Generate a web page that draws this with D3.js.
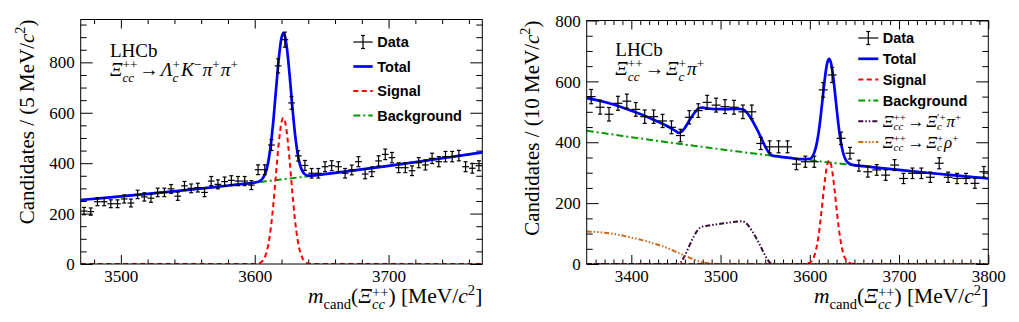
<!DOCTYPE html>
<html><head><meta charset="utf-8">
<script src="https://cdn.jsdelivr.net/npm/d3@7"></script>
<style>body{margin:0;background:#fff}svg{display:block}</style>
</head><body>
<svg id="c" width="1019" height="322"></svg>
<script>
// ---------------- LEFT PANEL DATA (5 MeV bins) ----------------
const binCentersL = d3.range(3472.5, 3770, 5);
const countsL = [210,208,247,247,239,239,258,242,276,266,261,284,284,298,269,310,300,303,284,329,
  316,327,332,329,329,313,374,374,472,786,890,639,429,391,360,360,386,390,386,360,
  373,406,357,366,409,435,422,382,382,370,402,393,419,406,426,426,430,386,380,390];
const fitGridL = [3470,3490,3510,3530,3550,3570,3590,3600,3604,3606,3608,3610,3612,3614,3616,3618,3620,3621.4,3622,3624,3626,3628,3630,3632,3634,3636,3638,3640,3643,3648,3660,3680,3700,3720,3740,3760,3770];
const bkgL = [254.0,263.3,273.1,283.4,294.1,305.3,317.0,323.0,325.4,326.7,327.9,329.1,330.4,331.6,332.9,334.1,335.4,336.3,336.6,337.9,339.2,340.5,341.7,343.0,344.3,345.6,346.9,348.2,350.2,353.5,361.5,375.3,389.5,404.2,419.4,435.0,443.0];
const sigL = [0,0,0,0,0,0,0,0.4,4.6,13.2,33.1,73.0,141.8,242.3,364.4,482.4,562,580,576.7,520.7,413.9,289.6,178.4,96.7,46.2,19.4,7.2,2.3,0.4,0,0,0,0,0,0,0,0];
const xMajorL = [3500,3600,3700];
const yMajorL = [0,200,400,600,800];

// ---------------- RIGHT PANEL DATA (10 MeV bins) ----------------
const binCentersR = d3.range(3355, 3800, 10);
const countsR = [550,515,492,528,535,508,484,484,470,449,422,482,504,531,522,517,515,500,500,396,
  385,385,385,328,336,336,572,621,413,364,323,303,309,292,325,281,298,298,285,331,
  285,281,281,265,303];
const fitGridR = [3350,3360,3370,3380,3390,3400,3410,3420,3430,3440,3450,3453,3456,3460,3465,3470,3474,3477,3480,3485,3490,3500,3510,3520,3524,3527,3530,3535,3540,3545,3549,3552,3555,3558,3562,3570,3580,3590,3600,3604,3606,3608,3610,3612,3614,3616,3618,3620,3621.7,3622,3624,3626,3628,3630,3632,3634,3636,3638,3640,3643,3648,3660,3680,3700,3720,3740,3760,3780,3800];
const bkgR = [438.0,433.7,429.3,425.1,420.8,416.6,412.5,408.4,404.3,400.3,396.3,
  395.1,393.9,392.3,390.4,388.4,386.8,385.7,384.5,382.6,380.7,
  376.9,373.1,369.4,367.9,366.8,365.7,363.9,362.1,360.2,358.8,
  357.7,356.7,355.6,354.2,351.4,347.9,344.4,341.0,339.6,339.0,
  338.3,337.6,337.0,336.3,335.6,335.0,334.3,333.7,333.6,333.0,
  332.3,331.7,331.0,330.4,329.7,329.1,328.4,327.8,326.8,325.2,
  321.4,315.1,309.0,303.1,297.4,291.8,286.3,281.0];
const sigR = [0,0,0,0,0,0,0,0,0,0, 0,0,0,0,0,0,0,0,0,0, 0,0,0,0,0,0,0,0,0,0, 0,0,0,0,0,0,0,0,
  4.6,19.4,35.8,61.3,97.4,144.0,197.9,252.7,300.1,331.1,340,339.7,324.0,287.2,236.6,181.3,129.1,85.4,52.6,30.1,16.0,5.4,0.6,
  0,0,0,0,0,0,0,0];
const xiPrimeR = [0,0,0,0,0,0,0,0,0,0,0,0,
  8,28,60,90,110,119,123,125.5,128,132,136,140,140.5,138,130,110,85,57,33,18,6,1,0,
  0,0,0,0,0,0,0,0,0,0, 0,0,0,0,0,0,0,0,0,0, 0,0,0,0,0,0,0,0,0,0, 0,0,0,0];
const rhoR = [107,105.5,103,99,93.5,87,80,72,63,53,40,36,32,27,21,15,11,8.5,6,3,1.2,
  0,0,0,0,0,0,0,0,0,0, 0,0,0,0,0,0,0,0,0,0, 0,0,0,0,0,0,0,0,0,0, 0,0,0,0,0,0,0,0,0,0, 0,0,0,0,0,0,0,0];
const xMajorR = [3400,3500,3600,3700,3800];
const yMajorR = [0,200,400,600,800];

[[fitGridL,bkgL,sigL],[fitGridR,bkgR,sigR,xiPrimeR,rhoR]].forEach(a=>a.forEach(arr=>{ if(arr.length!==a[0].length) throw new Error("length mismatch "+arr.length+" vs "+a[0].length); }));

// ---------------- drawing ----------------
const SERIF = "'Liberation Serif','Times New Roman',serif";
const SANS = "'Liberation Sans',Arial,sans-serif";
const svg = d3.select("#c");

function rich(parent, x, y, segs, size, anchor, off) {
  off = Object.assign({sub: 0.3, sup: 0.42, ssup: 0.42, scale: 0.68}, off || {});
  const g = parent.append("g");
  let cx = 0, ps = 0;
  for (const s of segs) {
    const small = s.sub || s.sup;
    const fs = small ? size * off.scale : size;
    const dy = s.sub ? size * off.sub : s.sup ? -size * (s.stack ? off.ssup : off.sup) : 0;
    const start = s.stack ? ps : cx + (s.gap || 0) * size;
    const t = g.append("text").attr("x", start).attr("y", dy).attr("font-size", fs)
      .attr("font-style", s.i ? "italic" : "normal").text(s.t);
    const end = start + t.node().getComputedTextLength();
    if (s.stack) cx = Math.max(cx, end); else { ps = start; cx = end; }
  }
  const ox = anchor === "end" ? x - cx : anchor === "middle" ? x - cx / 2 : x;
  g.attr("transform", `translate(${ox},${y})`);
  return g;
}

function panel(cfg) {
  const f = cfg.frame;
  const x = d3.scaleLinear().domain(cfg.xdom).range([f.x0, f.x1]);
  const y = d3.scaleLinear().domain(cfg.ydom).range([f.y1, f.y0]);
  const g = svg.append("g");
  const clipId = "clip" + cfg.id;
  svg.append("clipPath").attr("id", clipId).append("rect")
    .attr("x", f.x0).attr("y", f.y0).attr("width", f.x1 - f.x0).attr("height", f.y1 - f.y0);

  // axes
  const fontAttrs = sel => sel.attr("font-family", SERIF).attr("font-size", 17);
  const bMaj = g.append("g").attr("transform", `translate(0,${f.y1})`)
    .call(d3.axisBottom(x).tickValues(cfg.xMaj).tickSize(-9).tickFormat(d3.format("d")));
  fontAttrs(bMaj);
  bMaj.selectAll("text").attr("y", 18).attr("dy", null).attr("fill", "#000");
  const bMin = g.append("g").attr("transform", `translate(0,${f.y1})`)
    .call(d3.axisBottom(x).tickValues(cfg.xMin).tickSize(-4.5).tickFormat(""));
  const tMaj = g.append("g").attr("transform", `translate(0,${f.y0})`)
    .call(d3.axisTop(x).tickValues(cfg.xMaj).tickSize(-9).tickFormat(""));
  const tMin = g.append("g").attr("transform", `translate(0,${f.y0})`)
    .call(d3.axisTop(x).tickValues(cfg.xMin).tickSize(-4.5).tickFormat(""));
  const lMaj = g.append("g").attr("transform", `translate(${f.x0},0)`)
    .call(d3.axisLeft(y).tickValues(cfg.yMaj).tickSize(-12).tickFormat(d3.format("d")));
  fontAttrs(lMaj);
  lMaj.selectAll("text").attr("x", -6).attr("dy", "0.33em").attr("fill", "#000");
  const lMin = g.append("g").attr("transform", `translate(${f.x0},0)`)
    .call(d3.axisLeft(y).tickValues(cfg.yMin).tickSize(-6).tickFormat(""));
  const rMaj = g.append("g").attr("transform", `translate(${f.x1},0)`)
    .call(d3.axisRight(y).tickValues(cfg.yMaj).tickSize(-12).tickFormat(""));
  const rMin = g.append("g").attr("transform", `translate(${f.x1},0)`)
    .call(d3.axisRight(y).tickValues(cfg.yMin).tickSize(-6).tickFormat(""));
  [bMaj, bMin, tMaj, tMin, lMaj, lMin, rMaj, rMin].forEach(a => a.select(".domain").remove());

  // curves
  const cg = g.append("g").attr("clip-path", `url(#${clipId})`);
  const line = d3.line().x(d => x(d[0])).y(d => y(d[1])).curve(d3.curveMonotoneX);
  cfg.comps.forEach(c => {
    cg.append("path").datum(cfg.grid.map((m, i) => [m, c.vals[i]]))
      .attr("d", line).attr("fill", "none").attr("stroke", c.color)
      .attr("stroke-width", c.w).attr("stroke-dasharray", c.dash);
  });
  const total = cfg.grid.map((m, i) => [m, cfg.comps.reduce((s, c) => s + c.vals[i], 0)]);
  cg.append("path").datum(total).attr("d", line).attr("fill", "none")
    .attr("stroke", "#0000ff").attr("stroke-width", 2.7);

  // data points
  const dg = g.append("g").attr("stroke", "#000").attr("stroke-width", 1.2).attr("fill", "none");
  cfg.centers.forEach((m, i) => {
    const v = cfg.counts[i], e = Math.sqrt(v);
    const px = x(m), py = y(v);
    dg.append("line").attr("x1", x(m - cfg.hw)).attr("x2", x(m + cfg.hw)).attr("y1", py).attr("y2", py);
    dg.append("line").attr("x1", px).attr("x2", px).attr("y1", y(v - e)).attr("y2", y(v + e));
    dg.append("line").attr("x1", px - 2).attr("x2", px + 2).attr("y1", y(v - e)).attr("y2", y(v - e));
    dg.append("line").attr("x1", px - 2).attr("x2", px + 2).attr("y1", y(v + e)).attr("y2", y(v + e));
  });

  // frame
  g.append("rect").attr("x", f.x0).attr("y", f.y0).attr("width", f.x1 - f.x0).attr("height", f.y1 - f.y0)
    .attr("fill", "none").attr("stroke", "#000").attr("stroke-width", 1);

  // axis titles
  const tg = g.append("g").attr("font-family", SERIF).attr("fill", "#000");
  const yt = tg.append("g").attr("transform", `translate(${cfg.yTitleX},${f.y0}) rotate(-90)`);
  rich(yt, 0, 0, [{t: cfg.yTitle}, {t: "c", i: 1}, {t: "2", sup: 1}, {t: ")"}], 21, "end");
  rich(tg, f.x1, 302.5, [{t: "m", i: 1}, {t: "cand", sub: 1}, {t: "("}, {t: "Ξ", i: 1},
    {t: "cc", i: 1, sub: 1}, {t: "++", sup: 1, stack: 1}, {t: ")\u00a0[MeV/"}, {t: "c", i: 1}, {t: "2", sup: 1}, {t: "]"}],
    21.5, "end", {sub: 0.28, sup: 0.36, ssup: 0.26});

  // labels
  tg.append("text").attr("x", cfg.lab.x).attr("y", cfg.lab.y).attr("font-size", 19).text("LHCb");
  rich(tg, cfg.lab.x, cfg.lab.y + 19, cfg.decay, 19.5, "start", {ssup: 0.38, sup: 0.38});

  // legend
  const lg = g.append("g");
  cfg.legend.forEach((it, k) => {
    const ly = cfg.leg.y0 + k * cfg.leg.dy;
    const L = cfg.leg;
    if (it.type === "data") {
      const cxm = (L.x0 + L.x1) / 2;
      const s = lg.append("g").attr("stroke", "#000").attr("stroke-width", 1.2);
      s.append("line").attr("x1", L.x0).attr("x2", L.x1).attr("y1", ly).attr("y2", ly);
      s.append("line").attr("x1", cxm).attr("x2", cxm).attr("y1", ly - 6.5).attr("y2", ly + 6.5);
      s.append("line").attr("x1", cxm - 2).attr("x2", cxm + 2).attr("y1", ly - 6.5).attr("y2", ly - 6.5);
      s.append("line").attr("x1", cxm - 2).attr("x2", cxm + 2).attr("y1", ly + 6.5).attr("y2", ly + 6.5);
    } else {
      lg.append("line").attr("x1", L.x0).attr("x2", L.x1).attr("y1", ly).attr("y2", ly)
        .attr("stroke", it.color).attr("stroke-width", it.w).attr("stroke-dasharray", it.dash);
    }
    if (it.rich) {
      const rg = lg.append("g").attr("font-family", SERIF).attr("fill", "#000");
      rich(rg, L.tx, ly + 5.5, it.rich, 17, "start", {sub: 0.22, sup: 0.34, ssup: 0.34, scale: 0.64});
    } else {
      lg.append("text").attr("x", L.tx).attr("y", ly + 5.3).attr("font-family", SANS)
        .attr("font-weight", "bold").attr("font-size", 14.5).attr("fill", "#000").text(it.label);
    }
  });
}

const RED = {color: "#ff0000", w: 2, dash: "5,3.5"};
const GREEN = {color: "#009a00", w: 2, dash: "7,3,2,3"};
const PURPLE = {color: "#3a0a3a", w: 2, dash: "5,2,1.5,2,1.5,2"};
const ORANGE = {color: "#cc6a1a", w: 2, dash: "5,2,1.5,2,1.5,2,1.5,2"};
const ARROW = {t: "→", gap: 0.1};

panel({
  id: "L",
  frame: {x0: 80.7, x1: 482.3, y0: 19.5, y1: 264},
  xdom: [3470, 3770], ydom: [0, 970],
  xMaj: xMajorL, xMin: d3.range(3480, 3770, 20).filter(v => !xMajorL.includes(v)),
  yMaj: yMajorL, yMin: d3.range(50, 970, 50).filter(v => !yMajorL.includes(v)),
  grid: fitGridL,
  comps: [Object.assign({vals: bkgL}, GREEN), Object.assign({vals: sigL}, RED)],
  centers: binCentersL, counts: countsL, hw: 2.5,
  yTitle: "Candidates / (5 MeV/", yTitleX: 33.5,
  lab: {x: 110, y: 57},
  decay: [{t: "Ξ", i: 1}, {t: "cc", i: 1, sub: 1}, {t: "++", sup: 1, stack: 1}, ARROW,
    {t: "Λ", i: 1, gap: 0.1}, {t: "c", i: 1, sub: 1}, {t: "+", sup: 1, stack: 1}, {t: "K", i: 1, gap: 0.05}, {t: "−", sup: 1},
    {t: "π", i: 1, gap: 0.05}, {t: "+", sup: 1}, {t: "π", i: 1, gap: 0.05}, {t: "+", sup: 1}],
  leg: {x0: 353.3, x1: 372.7, tx: 377.3, y0: 42, dy: 24.5},
  legend: [
    {type: "data", label: "Data"},
    {label: "Total", color: "#0000ff", w: 2.7},
    Object.assign({label: "Signal"}, RED),
    Object.assign({label: "Background"}, GREEN)
  ]
});

panel({
  id: "R",
  frame: {x0: 586.7, x1: 988.3, y0: 20.5, y1: 264},
  xdom: [3350, 3800], ydom: [0, 800],
  xMaj: xMajorR, xMin: d3.range(3360, 3800, 10).filter(v => !xMajorR.includes(v)),
  yMaj: yMajorR, yMin: d3.range(50, 800, 50).filter(v => !yMajorR.includes(v)),
  grid: fitGridR,
  comps: [Object.assign({vals: bkgR}, GREEN), Object.assign({vals: sigR}, RED),
    Object.assign({vals: xiPrimeR}, PURPLE), Object.assign({vals: rhoR}, ORANGE)],
  centers: binCentersR, counts: countsR, hw: 5,
  yTitle: "Candidates / (10 MeV/", yTitleX: 539,
  lab: {x: 615.3, y: 56},
  decay: [{t: "Ξ", i: 1}, {t: "cc", i: 1, sub: 1}, {t: "++", sup: 1, stack: 1}, ARROW,
    {t: "Ξ", i: 1, gap: 0.1}, {t: "c", i: 1, sub: 1}, {t: "+", sup: 1, stack: 1}, {t: "π", i: 1, gap: 0.05}, {t: "+", sup: 1}],
  leg: {x0: 858.3, x1: 878.3, tx: 882.7, y0: 38, dy: 20.8},
  legend: [
    {type: "data", label: "Data"},
    {label: "Total", color: "#0000ff", w: 2.7},
    Object.assign({label: "Signal"}, RED),
    Object.assign({label: "Background"}, GREEN),
    Object.assign({rich: [{t: "Ξ", i: 1}, {t: "cc", i: 1, sub: 1}, {t: "++", sup: 1, stack: 1}, ARROW,
      {t: "Ξ", i: 1, gap: 0.1}, {t: "c", i: 1, sub: 1}, {t: "′+", sup: 1, stack: 1}, {t: "π", i: 1, gap: 0.05}, {t: "+", sup: 1}]}, PURPLE),
    Object.assign({rich: [{t: "Ξ", i: 1}, {t: "cc", i: 1, sub: 1}, {t: "++", sup: 1, stack: 1}, ARROW,
      {t: "Ξ", i: 1, gap: 0.1}, {t: "c", i: 1, sub: 1}, {t: "+", sup: 1, stack: 1}, {t: "ρ", i: 1, gap: 0.05}, {t: "+", sup: 1}]}, ORANGE)
  ]
});
</script>
</body></html>
